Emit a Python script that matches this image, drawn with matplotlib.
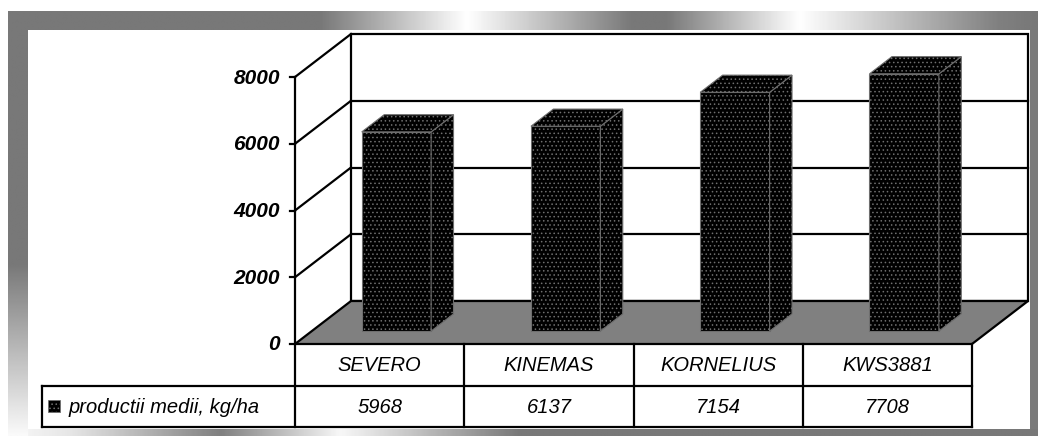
import matplotlib.pyplot as plt
import numpy as np
from matplotlib.patches import Polygon, Rectangle

categories = ["SEVERO", "KINEMAS", "KORNELIUS", "KWS3881"]
values = [5968, 6137, 7154, 7708]
series_name = "productii medii, kg/ha"
y_ticks = [0, 2000, 4000, 6000, 8000]

W, H = 1040, 439

# pixel layout of the pseudo-3d plot
CAT_PX = 169.25          # pixels per category
X0_PX = 295              # px of category 0 (front plane)
Y0_PX = 345              # px from top for value 0 (front plane)
VAL_PX = 267 / 8000      # pixels per value unit
DX = 56 / CAT_PX         # depth offset in category units
DY = 43 / VAL_PX         # depth offset in value units
ROW_H = 41.5 / VAL_PX    # table row height in value units
LABEL_X = (42 - X0_PX) / CAT_PX

plt.rcParams["font.family"] = ["Liberation Sans", "DejaVu Sans"]
plt.rcParams["hatch.linewidth"] = 0.6

fig = plt.figure(figsize=(W / 100, H / 100), dpi=100)

# gradient frame
bg = fig.add_axes([0, 0, 1, 1])
bg.set_xlim(0, W)
bg.set_ylim(H, 0)
bg.axis("off")


def band(stops_pos, stops_val, extent, horizontal=True):
    n = 400
    lo, hi = (extent[0], extent[1]) if horizontal else (extent[3], extent[2])
    pos = np.linspace(lo, hi, n)
    g = np.interp(pos, stops_pos, stops_val)
    img = g[None, :] if horizontal else g[:, None]
    bg.imshow(img, cmap="gray", vmin=0, vmax=1, extent=extent,
              aspect="auto", interpolation="bilinear")


band([8, 320, 467, 633, 667, 800, 1000, 1038],
     [0.47, 0.47, 1.0, 0.47, 0.47, 1.0, 0.5, 0.47], (8, 1038, 31, 12))
band([12, 265, 437], [0.47, 0.47, 0.98], (8, 28, 437, 31), horizontal=False)
band([28, 70, 220, 340, 520, 1038],
     [0.95, 0.9, 0.5, 0.97, 0.47, 0.47], (28, 1038, 437, 430))
bg.add_patch(Rectangle((1030, 31), 8, 399, color="#7a7a7a", lw=0))

# main drawing axes in data units
ax = fig.add_axes([0, 0, 1, 1])
ax.patch.set_alpha(0)
ax.set_xlim(-X0_PX / CAT_PX, (W - X0_PX) / CAT_PX)
ax.set_ylim(-(H - Y0_PX) / VAL_PX, Y0_PX / VAL_PX)
ax.axis("off")

n = len(categories)
top = y_ticks[-1]
LW = 1.6

# back wall
ax.add_patch(Rectangle((DX, DY), n, top, facecolor="white",
                       edgecolor="black", lw=LW, zorder=1))
for v in y_ticks[1:-1]:
    ax.plot([DX, n + DX], [v + DY, v + DY], color="black", lw=LW, zorder=1)
# left wall
for v in y_ticks[1:]:
    ax.plot([0, DX], [v, v + DY], color="black", lw=LW, zorder=1)
# floor
ax.add_patch(Polygon([(0, 0), (n, 0), (n + DX, DY), (DX, DY)],
                     closed=True, facecolor="#808080", edgecolor="black",
                     lw=LW, zorder=2))

# bars
bw = 0.41
fd, dd = 0.3, 0.4
for i, v in enumerate(values):
    x0 = i + 0.5 - bw / 2 + fd * DX
    y0 = fd * DY
    ddx, ddy = dd * DX, dd * DY
    faces = [
        [(x0, y0), (x0 + bw, y0), (x0 + bw, y0 + v), (x0, y0 + v)],
        [(x0 + bw, y0), (x0 + bw + ddx, y0 + ddy),
         (x0 + bw + ddx, y0 + v + ddy), (x0 + bw, y0 + v)],
        [(x0, y0 + v), (x0 + bw, y0 + v),
         (x0 + bw + ddx, y0 + v + ddy), (x0 + ddx, y0 + v + ddy)],
    ]
    for f in faces:
        ax.add_patch(Polygon(f, closed=True, facecolor="black",
                             edgecolor="#6e6e6e", hatch="....", lw=0.8,
                             zorder=3))

# value axis
ax.plot([0, 0], [top, -2 * ROW_H], color="black", lw=LW, zorder=4)
tick_len = 5 / CAT_PX
for v in y_ticks:
    ax.plot([-tick_len, 0], [v, v], color="black", lw=LW, zorder=4)
    ax.text(-15 / CAT_PX, v, f"{v}", ha="right", va="center",
            fontsize=15, fontweight="bold", fontstyle="italic")

# data table
for k in range(1, n + 1):
    ax.plot([k, k], [0, -2 * ROW_H], color="black", lw=LW, zorder=4)
ax.plot([LABEL_X, n], [-ROW_H, -ROW_H], color="black", lw=LW, zorder=4)
ax.plot([LABEL_X, n], [-2 * ROW_H, -2 * ROW_H], color="black", lw=LW,
        zorder=4)
ax.plot([LABEL_X, LABEL_X], [-ROW_H, -2 * ROW_H], color="black", lw=LW,
        zorder=4)

for i, (c, v) in enumerate(zip(categories, values)):
    ax.text(i + 0.5, -ROW_H / 2, c, ha="center", va="center",
            fontsize=14.5, fontstyle="italic")
    ax.text(i + 0.5, -1.5 * ROW_H, f"{v}", ha="center", va="center",
            fontsize=14.5, fontstyle="italic")

key = 12 / CAT_PX
key_h = 12 / VAL_PX
ax.add_patch(Rectangle((LABEL_X + 6 / CAT_PX, -1.5 * ROW_H - key_h / 2),
                       key, key_h, facecolor="black", edgecolor="#6e6e6e",
                       hatch="....", lw=0.5, zorder=4))
ax.text(LABEL_X + 26 / CAT_PX, -1.5 * ROW_H, series_name, ha="left",
        va="center", fontsize=14.5, fontstyle="italic")

fig.savefig("out.png", dpi=100)
